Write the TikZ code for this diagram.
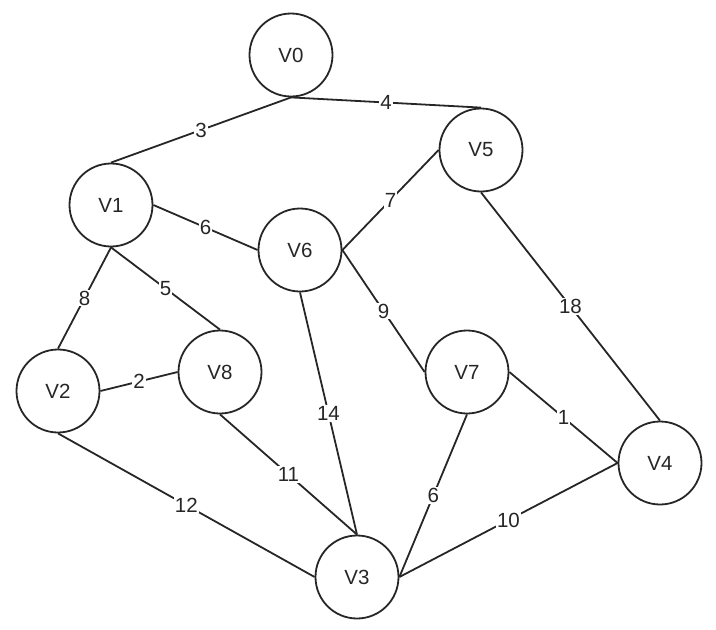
\documentclass[tikz,border=0pt]{standalone}
\usepackage{fontspec}
\setmainfont{Liberation Sans}
\begin{document}
\begin{tikzpicture}[x=1pt,y=-1pt,
  vert/.style={circle,draw=black!85,line width=1.8pt,minimum size=83pt,inner sep=0pt,font=\fontsize{20.5}{24}\selectfont,text=black!85},
  edge/.style={draw=black!85,line width=1.8pt},
  wt/.style={fill=white,inner sep=1pt,font=\fontsize{20.5}{24}\selectfont,text=black!85}]
\useasboundingbox (0,0) rectangle (716,630);
\node[vert] (V0) at (291,55) {V0};
\node[vert] (V5) at (481,150) {V5};
\node[vert] (V1) at (111,205) {V1};
\node[vert] (V6) at (300,250) {V6};
\node[vert] (V2) at (58,391) {V2};
\node[vert] (V8) at (220,372) {V8};
\node[vert] (V7) at (467,372) {V7};
\node[vert] (V4) at (660,463) {V4};
\node[vert] (V3) at (357,577) {V3};
\path[edge] (V0.south) -- node[wt]{3} (V1.north);
\path[edge] (V0.south) -- node[wt]{4} (V5.north);
\path[edge] (V1.east) -- node[wt]{6} (V6.west);
\path[edge] (V5.west) -- node[wt]{7} (V6.east);
\path[edge] (V5.south) -- node[wt]{18} (V4.north);
\path[edge] (V6.east) -- node[wt]{9} (V7.west);
\path[edge] (V6.south) -- node[wt]{14} (V3.north);
\path[edge] (V1.south) -- node[wt]{8} (V2.north);
\path[edge] (V1.south) -- node[wt]{5} (V8.north);
\path[edge] (V2.east) -- node[wt]{2} (V8.west);
\path[edge] (V2.south) -- node[wt]{12} (V3.west);
\path[edge] (V8.south) -- node[wt]{11} (V3.north);
\path[edge] (V7.south) -- node[wt]{6} (V3.east);
\path[edge] (V7.east) -- node[wt]{1} (V4.west);
\path[edge] (V3.east) -- node[wt]{10} (V4.west);
\end{tikzpicture}
\end{document}
